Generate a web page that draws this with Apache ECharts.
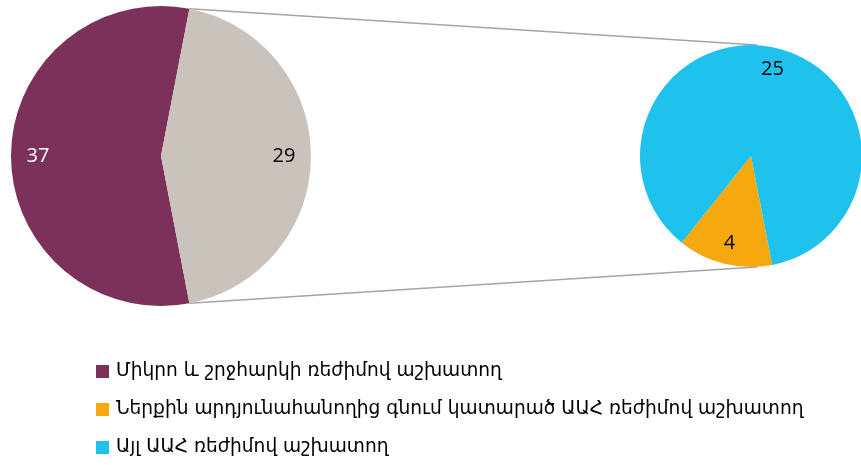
<!DOCTYPE html>
<html>
<head>
<meta charset="utf-8">
<script src="https://cdn.jsdelivr.net/npm/echarts@6/dist/echarts.min.js"></script>
<style>
  html, body { margin: 0; padding: 0; background: #fff; }
  #chart { width: 861px; height: 465px; }
</style>
</head>
<body>
<div id="chart"></div>
<script>
// legend categories
const categories = [
  'Միկրո և շրջհարկի ռեժիմով աշխատող',
  'Ներքին արդյունահանողից գնում կատարած ԱԱՀ ռեժիմով աշխատող',
  'Այլ ԱԱՀ ռեժիմով աշխատող'
];
// main pie: micro vs. VAT (VAT is split in the second pie)
const mainNames = [categories[0], 'ԱԱՀ ռեժիմով աշխատող'];
const mainValues = [37, 29];
// secondary pie: breakdown of the VAT part
const subNames = [categories[1], categories[2]];
const subValues = [4, 25];

const colors = {
  purple: '#7b3159',
  beige: '#c9c3bb',
  orange: '#f6a90e',
  cyan: '#1ec2ed',
  line: '#a6a6a6'
};

// layout
const left = { cx: 161, cy: 156, r: 150 };
const right = { cx: 751, cy: 156, r: 111 };
const labelFont = 'Segoe UI, "Open Sans", "DejaVu Sans", sans-serif';

const mainTotal = mainValues[0] + mainValues[1];
const splitHalf = mainValues[1] / mainTotal * 180; // half angle of the split slice
const mainStart = 360 - splitHalf;
const subStart = 281;

const chart = echarts.init(document.getElementById('chart'));

function pieData(names, values, cols, labelColors) {
  return values.map((v, i) => ({
    name: names[i],
    value: v,
    itemStyle: { color: cols[i] },
    label: { color: labelColors[i] }
  }));
}

const mainCols = [colors.purple, colors.beige];
const subCols = [colors.orange, colors.cyan];

// connector lines from the split slice edges to top/bottom of the second pie
const rad = splitHalf * Math.PI / 180;
const topPt = [left.cx + left.r * Math.cos(rad), left.cy - left.r * Math.sin(rad)];
const botPt = [left.cx + left.r * Math.cos(rad), left.cy + left.r * Math.sin(rad)];

const option = {
  animation: false,
  legend: {
    orient: 'vertical',
    left: 91,
    top: 357,
    icon: 'rect',
    itemWidth: 13,
    itemHeight: 13,
    itemGap: 19,
    selectedMode: false,
    textStyle: {
      fontFamily: '"DejaVu Sans", sans-serif',
      fontSize: 18.6,
      color: '#000',
      padding: [0, 0, 0, 2]
    },
    data: [
      { name: categories[0], itemStyle: { color: colors.purple } },
      { name: categories[1], itemStyle: { color: colors.orange } },
      { name: categories[2], itemStyle: { color: colors.cyan } }
    ]
  },
  graphic: [
    {
      type: 'line',
      shape: { x1: topPt[0], y1: topPt[1], x2: right.cx + 6, y2: right.cy - right.r },
      style: { stroke: colors.line, lineWidth: 1.5 },
      z: 0
    },
    {
      type: 'line',
      shape: { x1: botPt[0], y1: botPt[1], x2: right.cx + 6, y2: right.cy + right.r },
      style: { stroke: colors.line, lineWidth: 1.5 },
      z: 0
    }
  ],
  series: [
    {
      type: 'pie',
      center: [left.cx, left.cy],
      radius: [0, left.r],
      startAngle: mainStart,
      clockwise: true,
      silent: true,
      label: { show: false },
      labelLine: { show: false },
      data: pieData(mainNames, mainValues, mainCols, ['#fff', '#000'])
    },
    {
      type: 'pie',
      center: [right.cx, right.cy],
      radius: [0, right.r],
      startAngle: subStart,
      clockwise: true,
      silent: true,
      label: { show: false },
      labelLine: { show: false },
      data: pieData(subNames, subValues, subCols, ['#000', '#000'])
    },
    // label-only rings so the value labels sit near the rim
    {
      type: 'pie',
      center: [left.cx, left.cy],
      radius: [left.r * 0.6, left.r],
      startAngle: mainStart,
      clockwise: true,
      silent: true,
      itemStyle: { color: 'transparent' },
      label: {
        show: true, position: 'inside', formatter: '{c}',
        fontFamily: labelFont, fontSize: 20
      },
      labelLine: { show: false },
      data: pieData(mainNames, mainValues, ['transparent', 'transparent'], ['#fff', '#000'])
    },
    {
      type: 'pie',
      center: [right.cx, right.cy],
      radius: [right.r * 0.56, right.r],
      startAngle: subStart,
      clockwise: true,
      silent: true,
      itemStyle: { color: 'transparent' },
      label: {
        show: true, position: 'inside', formatter: '{c}',
        fontFamily: labelFont, fontSize: 20
      },
      labelLine: { show: false },
      data: pieData(subNames, subValues, ['transparent', 'transparent'], ['#000', '#000'])
    }
  ]
};

chart.setOption(option);
</script>
</body>
</html>
